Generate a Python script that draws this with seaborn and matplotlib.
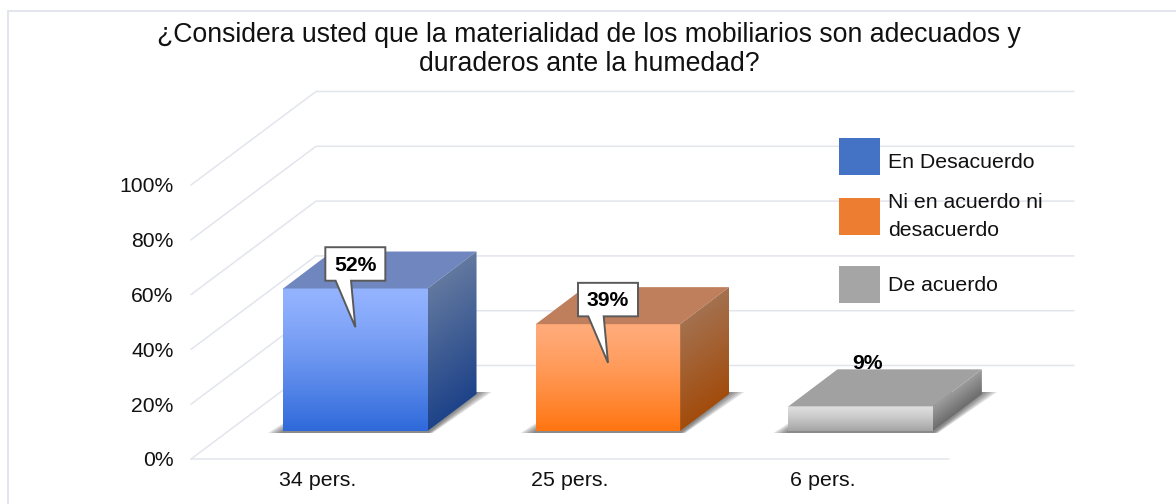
import numpy as np
import pandas as pd
import matplotlib
matplotlib.use("Agg")
import matplotlib.pyplot as plt
import seaborn as sns
from matplotlib.colors import to_rgb
from matplotlib.lines import Line2D
from matplotlib.patches import Polygon, Rectangle

# ---- data ----
categories = ["34 pers.", "25 pers.", "6 pers."]
percentages = [52, 39, 9]
percent_labels = ["52%", "39%", "9%"]
legend_labels = ["En Desacuerdo", "Ni en acuerdo ni\ndesacuerdo", "De acuerdo"]
y_ticks = [0, 20, 40, 60, 80, 100]
title = ("¿Considera usted que la materialidad de los mobiliarios son adecuados y\n"
         "duraderos ante la humedad?")

# ---- styles ----
legend_colors = ["#4472C4", "#ED7D31", "#A5A5A5"]
front_top = ["#94B3FF", "#FFAB7A", "#DEDEDE"]
front_bottom = ["#2E69DA", "#FF7510", "#A3A3A3"]
top_colors = ["#6F86BF", "#BF7F5C", "#A1A1A1"]
side_top = ["#62789F", "#A4714F", "#9C9C9C"]
side_bottom = ["#1E4389", "#A24C0C", "#6C6C6C"]
grid_color = "#E2E5EC"

sns.set_theme(style="white")
plt.rcParams["font.family"] = ["Liberation Sans", "DejaVu Sans"]

W, H = 1176, 504
fig = plt.figure(figsize=(W / 100, H / 100), dpi=100, facecolor="white")

# plot geometry, in pixels
LEFT, RIGHT, BOTTOM, TOP = 191, 949, 459, 185
PX_X = (RIGHT - LEFT) / 3        # pixels per category
PX_Y = (BOTTOM - TOP) / 100      # pixels per percent


def to_axes(left, right, bottom, top):
    return [left / W, 1 - bottom / H, (right - left) / W, (bottom - top) / H]


def gx(px):
    return px / PX_X


def gy(px):
    return px / PX_Y


# outer frame: only the top and left edges fall inside the picture
fig.add_artist(Line2D([7.5 / W, 7.5 / W, 1], [0, 1 - 10.5 / H, 1 - 10.5 / H],
                      transform=fig.transFigure, color=grid_color, lw=1.4,
                      solid_joinstyle="miter"))

# wall axes: gridlines, ticks
ax = fig.add_axes(to_axes(LEFT, RIGHT, BOTTOM, TOP))
ax.set_xlim(-0.5, 2.5)
ax.set_ylim(0, 100)
ax.patch.set_alpha(0)
sns.despine(ax=ax, left=True, bottom=True)
WALL_X, WALL_Y = gx(125), gy(93.5)
for v in y_ticks:
    ax.plot([-0.5, -0.5 + WALL_X, 2.5 + WALL_X], [v, v + WALL_Y, v + WALL_Y],
            color=grid_color, lw=1.1, clip_on=False, zorder=1, solid_joinstyle="miter")
ax.plot([-0.5, 2.5], [0, 0], color=grid_color, lw=1.1, clip_on=False, zorder=1)
ax.set_yticks(y_ticks)
ax.set_yticklabels([f"{v}%" for v in y_ticks], fontsize=15.2, color="#111111")
ax.set_xticks(range(len(categories)))
ax.set_xticklabels(categories, fontsize=15.4, color="#111111")
ax.tick_params(axis="both", length=0)
ax.tick_params(axis="y", pad=12.5)
ax.tick_params(axis="x", pad=9)

# bars axes: same scale, moved into the depth of the floor
ax_bars = fig.add_axes(to_axes(LEFT + 38, RIGHT + 38, BOTTOM - 28, TOP - 28))
df = pd.DataFrame({"cat": categories, "pct": percentages})
sns.barplot(data=df, x="cat", y="pct", hue="cat", palette=front_bottom, width=144.4 / PX_X,
            dodge=False, legend=False, ax=ax_bars, saturation=1, linewidth=0, zorder=3)
ax_bars.set_xlim(-0.5, 2.5)
ax_bars.set_ylim(0, 100)
ax_bars.patch.set_alpha(0)
ax_bars.axis("off")

DX, DY = gx(49), gy(37)
bars = sorted(ax_bars.patches, key=lambda p: p.get_x())


def ramp(c0, c1, t):
    a, b = np.array(to_rgb(c0)), np.array(to_rgb(c1))
    return a + (b - a) * t[..., None]


for i, (bar, label) in enumerate(zip(bars, percent_labels)):
    l, b_w, v = bar.get_x(), bar.get_width(), bar.get_height()
    r = l + b_w
    c = l + b_w / 2

    # floor shadow, soft edge built from stacked layers
    for k in (1.0, 0.8, 0.6, 0.4, 0.2):
        ax_bars.add_patch(Polygon(
            [(l - gx(15 * k), -gy(2)), (r + gx(5 * k), -gy(2)),
             (r + DX + gx(15 * k), DY + gy(2)), (l + DX, DY + gy(2))],
            closed=True, fc="#404040", ec="none", alpha=0.17, clip_on=False, zorder=2))

    # front gradient
    t = np.linspace(0, 1, 256)[:, None] ** 1.3
    im = ax_bars.imshow(ramp(front_top[i], front_bottom[i], t), extent=[l, r, 0, v],
                        origin="upper", aspect="auto", zorder=4, interpolation="bilinear")
    im.set_clip_on(False)

    # top face
    ax_bars.add_patch(Polygon([(l, v), (r, v), (r + DX, v + DY), (l + DX, v + DY)],
                              closed=True, fc=top_colors[i], ec="none", clip_on=False, zorder=4))

    # side face with a gradient sheared along the depth
    side = Polygon([(r, 0), (r + DX, DY), (r + DX, v + DY), (r, v)], closed=True,
                   fc="none", ec="none", clip_on=False, zorder=4)
    ax_bars.add_patch(side)
    uu, yy = np.meshgrid(np.linspace(0, 1, 128), np.linspace(v + DY, 0, 256))
    tt = np.clip(1 - (yy - uu * DY) / v, 0, 1)
    im2 = ax_bars.imshow(ramp(side_top[i], side_bottom[i], tt), extent=[r, r + DX, 0, v + DY],
                         origin="upper", aspect="auto", zorder=4, interpolation="bilinear")
    im2.set_clip_box(fig.bbox)
    im2.set_clip_path(side)

    # data labels
    if v > 20:
        tip_y = v - gy(38.7)
        pts = [(-30, 80), (30, 80), (30, 46.5), (-4.3, 46.5), (0, 0), (-19.7, 46.5), (-30, 46.5)]
        ax_bars.add_patch(Polygon([(c + gx(px), tip_y + gy(py)) for px, py in pts], closed=True,
                                  fc="white", ec="#5A5A5A", lw=1.4, clip_on=False, zorder=6,
                                  joinstyle="miter"))
        ax_bars.text(c, tip_y + gy(64), label, ha="center", va="center_baseline", fontsize=15.2,
                     fontweight="bold", color="black", zorder=7, clip_on=False)
    else:
        ax_bars.text(c + gx(6.7), v + gy(44.5), label, ha="center", va="center_baseline",
                     fontsize=15.2, fontweight="bold", color="black", zorder=3, clip_on=False)

ax_bars.set_xlim(-0.5, 2.5)
ax_bars.set_ylim(0, 100)

# title
fig.text(589 / W, 1 - 49.5 / H, title, ha="center", va="center", fontsize=19.2,
         color="#111111", linespacing=1.13)

# legend, placed by hand: rows are unevenly spaced in the reference
swatches = [(138, 175), (198, 235), (266, 303)]
text_rows = [162.5, 216.5, 285.5]
for color, (y0, y1), label, ty in zip(legend_colors, swatches, legend_labels, text_rows):
    fig.add_artist(Rectangle((839 / W, 1 - y1 / H), 41 / W, (y1 - y0) / H,
                             transform=fig.transFigure, fc=color, ec="none", zorder=5))
    fig.text(888 / W, 1 - ty / H, label, ha="left", va="center", fontsize=15.3,
             color="#111111", linespacing=1.55, zorder=6)

fig.savefig("out.png", dpi=100, facecolor="white")
